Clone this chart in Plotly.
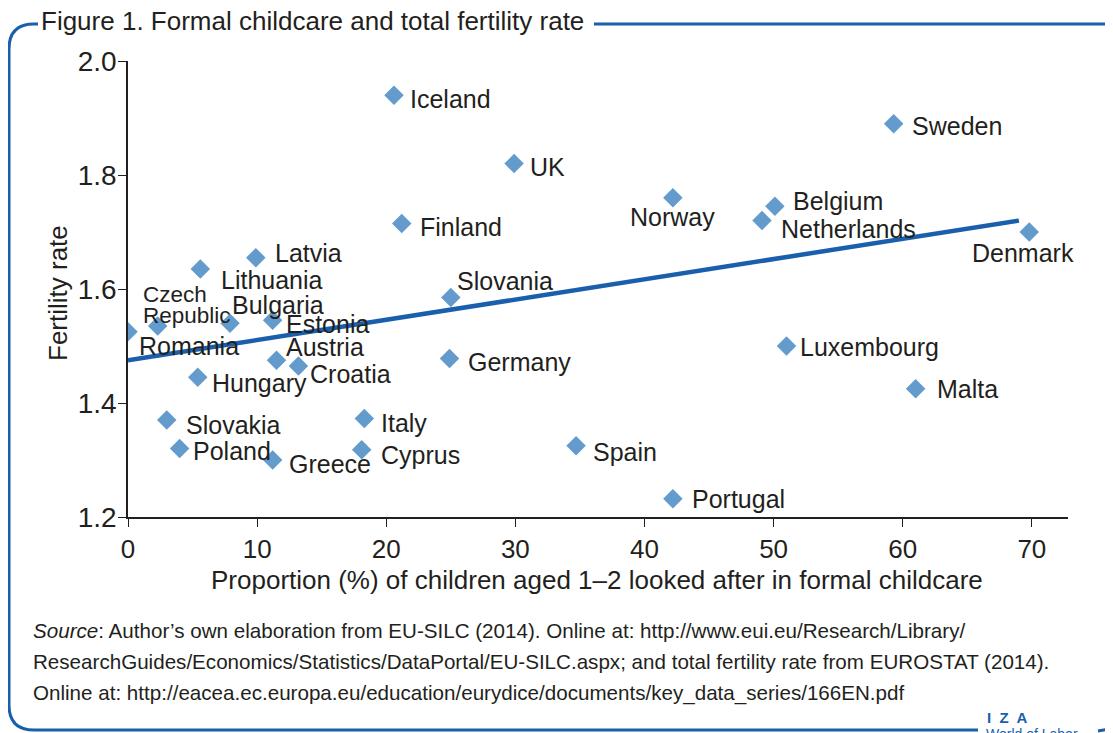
import plotly.graph_objects as go

# ---------------- data ----------------
countries = ["Iceland", "UK", "Sweden", "Norway", "Belgium", "Netherlands", "Finland",
             "Denmark", "Latvia", "Lithuania", "Slovania", "Czech<br>Republic", "Romania",
             "Bulgaria", "Estonia", "Austria", "Croatia", "Hungary", "Germany",
             "Luxembourg", "Malta", "Slovakia", "Italy", "Poland", "Cyprus", "Spain",
             "Greece", "Portugal"]
childcare = [20.6, 29.9, 59.3, 42.2, 50.1, 49.1, 21.2,
             69.8, 9.9, 5.6, 25.0, 2.3, 0.0,
             7.9, 11.2, 11.5, 13.2, 5.4, 24.9,
             51.0, 61.0, 3.0, 18.3, 4.0, 18.1, 34.7,
             11.2, 42.2]
fertility = [1.94, 1.82, 1.89, 1.76, 1.745, 1.72, 1.715,
             1.70, 1.655, 1.635, 1.585, 1.535, 1.525,
             1.54, 1.545, 1.475, 1.465, 1.445, 1.478,
             1.50, 1.425, 1.37, 1.373, 1.32, 1.318, 1.325,
             1.30, 1.232]
trend_x = [0, 69]
trend_y = [1.475, 1.72]
x_ticks = [0, 10, 20, 30, 40, 50, 60, 70]
y_ticks = [1.2, 1.4, 1.6, 1.8, 2.0]

# label placement (xanchor, xshift px, yshift px, font size)
label_pos = {
    "Iceland": ("left", 14, -4, 25), "UK": ("left", 14, -3, 25), "Sweden": ("left", 16, -2, 25),
    "Norway": ("center", 0, -19, 25), "Belgium": ("left", 16, 5, 25),
    "Netherlands": ("left", 17, -8, 25), "Finland": ("left", 16, -4, 25),
    "Denmark": ("center", -6, -21, 25), "Latvia": ("left", 17, 5, 25),
    "Lithuania": ("left", 19, -11, 25), "Slovania": ("left", 4, 17, 25),
    "Czech<br>Republic": ("left", -17, 21, 22.5), "Romania": ("left", 9, -14, 25),
    "Bulgaria": ("left", 0, 18, 25), "Estonia": ("left", 11, -4, 25),
    "Austria": ("left", 8, 13, 25), "Croatia": ("left", 10, -8, 25),
    "Hungary": ("left", 12, -6, 25), "Germany": ("left", 16, -3, 25),
    "Luxembourg": ("left", 11, -1, 25), "Malta": ("left", 19, 0, 25),
    "Slovakia": ("left", 17, -5, 25), "Italy": ("left", 15, -5, 25),
    "Poland": ("left", 11, -2, 25), "Cyprus": ("left", 17, -5, 25),
    "Spain": ("left", 15, -6, 25), "Greece": ("left", 14, -4, 25),
    "Portugal": ("left", 17, 0, 25),
}
LINE_GAP = 21

FONT = "Liberation Sans, Arial, sans-serif"
TXT = "#231f20"
BLUE = "#1a5fac"
MARK = "#649bcd"

OFF = 8  # page body margin
W, H = 1105, 725
L, T = 128 - OFF, 61 - OFF
PR, PB = 1068 - OFF, 517 - OFF
R, B = W - PR, H - PB
PW, PH = PR - L, PB - T


def px(x):
    return (x - OFF - L) / PW


def py(y):
    return (PB - (y - OFF)) / PH


fig = go.Figure()
fig.add_trace(go.Scatter(x=trend_x, y=trend_y, mode="lines",
                         line=dict(color=BLUE, width=4.5), hoverinfo="skip"))
fig.add_trace(go.Scatter(x=childcare, y=fertility, mode="markers",
                         marker=dict(symbol="diamond", size=15, color=MARK),
                         text=countries, hoverinfo="text"))

ann = []
for c, xv, yv in zip(countries, childcare, fertility):
    xa, xs, ys, fs = label_pos[c]
    lines = c.split("<br>")
    n = len(lines)
    for i, ln in enumerate(lines):
        ann.append(dict(x=xv, y=yv, xref="x", yref="y", text=ln, showarrow=False,
                        xanchor=xa, yanchor="middle", xshift=xs,
                        yshift=ys + (n - 1) / 2 * LINE_GAP - i * LINE_GAP,
                        font=dict(family=FONT, size=fs, color=TXT)))

# axis titles
ann.append(dict(x=px(597), y=py(580), xref="paper", yref="paper", showarrow=False,
                text="Proportion (%) of children aged 1–2 looked after in formal childcare",
                xanchor="center", yanchor="middle",
                font=dict(family=FONT, size=26, color=TXT)))
ann.append(dict(x=px(58), y=py(293), xref="paper", yref="paper", showarrow=False,
                text="Fertility rate", textangle=-90, xanchor="center", yanchor="middle",
                font=dict(family=FONT, size=26, color=TXT)))
# title
ann.append(dict(x=px(39), y=py(21), xref="paper", yref="paper", showarrow=False,
                text="Figure 1. Formal childcare and total fertility rate",
                xanchor="left", yanchor="middle",
                font=dict(family=FONT, size=26, color=TXT)))
# source
src_lines = [
    "<i>Source</i>: Author’s own elaboration from EU-SILC (2014). Online at: http://www.eui.eu/Research/Library/",
    "ResearchGuides/Economics/Statistics/DataPortal/EU-SILC.aspx; and total fertility rate from EUROSTAT (2014).",
    "Online at: http://eacea.ec.europa.eu/education/eurydice/documents/key_data_series/166EN.pdf",
]
for i, s in enumerate(src_lines):
    ann.append(dict(x=px(31), y=py(630 + 31.5 * i), xref="paper", yref="paper", showarrow=False,
                    text=s, xanchor="left", yanchor="middle",
                    font=dict(family=FONT, size=20.6, color=TXT)))
# IZA logo
ann.append(dict(x=px(1007), y=py(717), xref="paper", yref="paper", showarrow=False,
                text="<b>I  Z  A</b>", xanchor="center", yanchor="middle",
                font=dict(family=FONT, size=15, color=BLUE)))
ann.append(dict(x=px(984), y=py(734), xref="paper", yref="paper", showarrow=False,
                text="World of Labor", xanchor="left", yanchor="middle",
                font=dict(family=FONT, size=14, color=BLUE)))

# frame
r = 25
frame_left = (f"M {px(38)},{py(24)} L {px(9 + r)},{py(24)} "
              f"Q {px(9)},{py(24)} {px(9)},{py(24 + r)} "
              f"L {px(9)},{py(730 - r)} Q {px(9)},{py(730)} {px(9 + r)},{py(730)} "
              f"L {px(978)},{py(730)}")
shapes = [
    dict(type="path", xref="paper", yref="paper", path=frame_left,
         line=dict(color=BLUE, width=3)),
    dict(type="line", xref="paper", yref="paper", x0=px(594), x1=px(1120), y0=py(24), y1=py(24),
         line=dict(color=BLUE, width=3)),
    dict(type="line", xref="paper", yref="paper", x0=px(1098), x1=px(1120), y0=py(731), y1=py(727),
         line=dict(color=BLUE, width=3)),
]

fig.update_layout(
    width=W, height=H, margin=dict(l=L, r=R, t=T, b=B),
    paper_bgcolor="white", plot_bgcolor="white", showlegend=False,
    annotations=ann, shapes=shapes,
    xaxis=dict(range=[0, 72.8], tickvals=x_ticks, ticks="outside", ticklen=8, tickcolor=TXT,
               tickwidth=1.2, showline=True, linecolor=TXT, linewidth=1.5, showgrid=False,
               zeroline=False, tickfont=dict(family=FONT, size=26, color=TXT)),
    yaxis=dict(range=[1.2, 2.0], tickvals=y_ticks, tickformat=".1f", ticks="outside", ticklen=8,
               tickwidth=1.2, tickcolor=TXT, showline=True, linecolor=TXT, linewidth=1.5,
               showgrid=False, zeroline=False, ticklabelstandoff=-4,
               tickfont=dict(family=FONT, size=28, color=TXT)),
)

fig.write_html("out.html")
